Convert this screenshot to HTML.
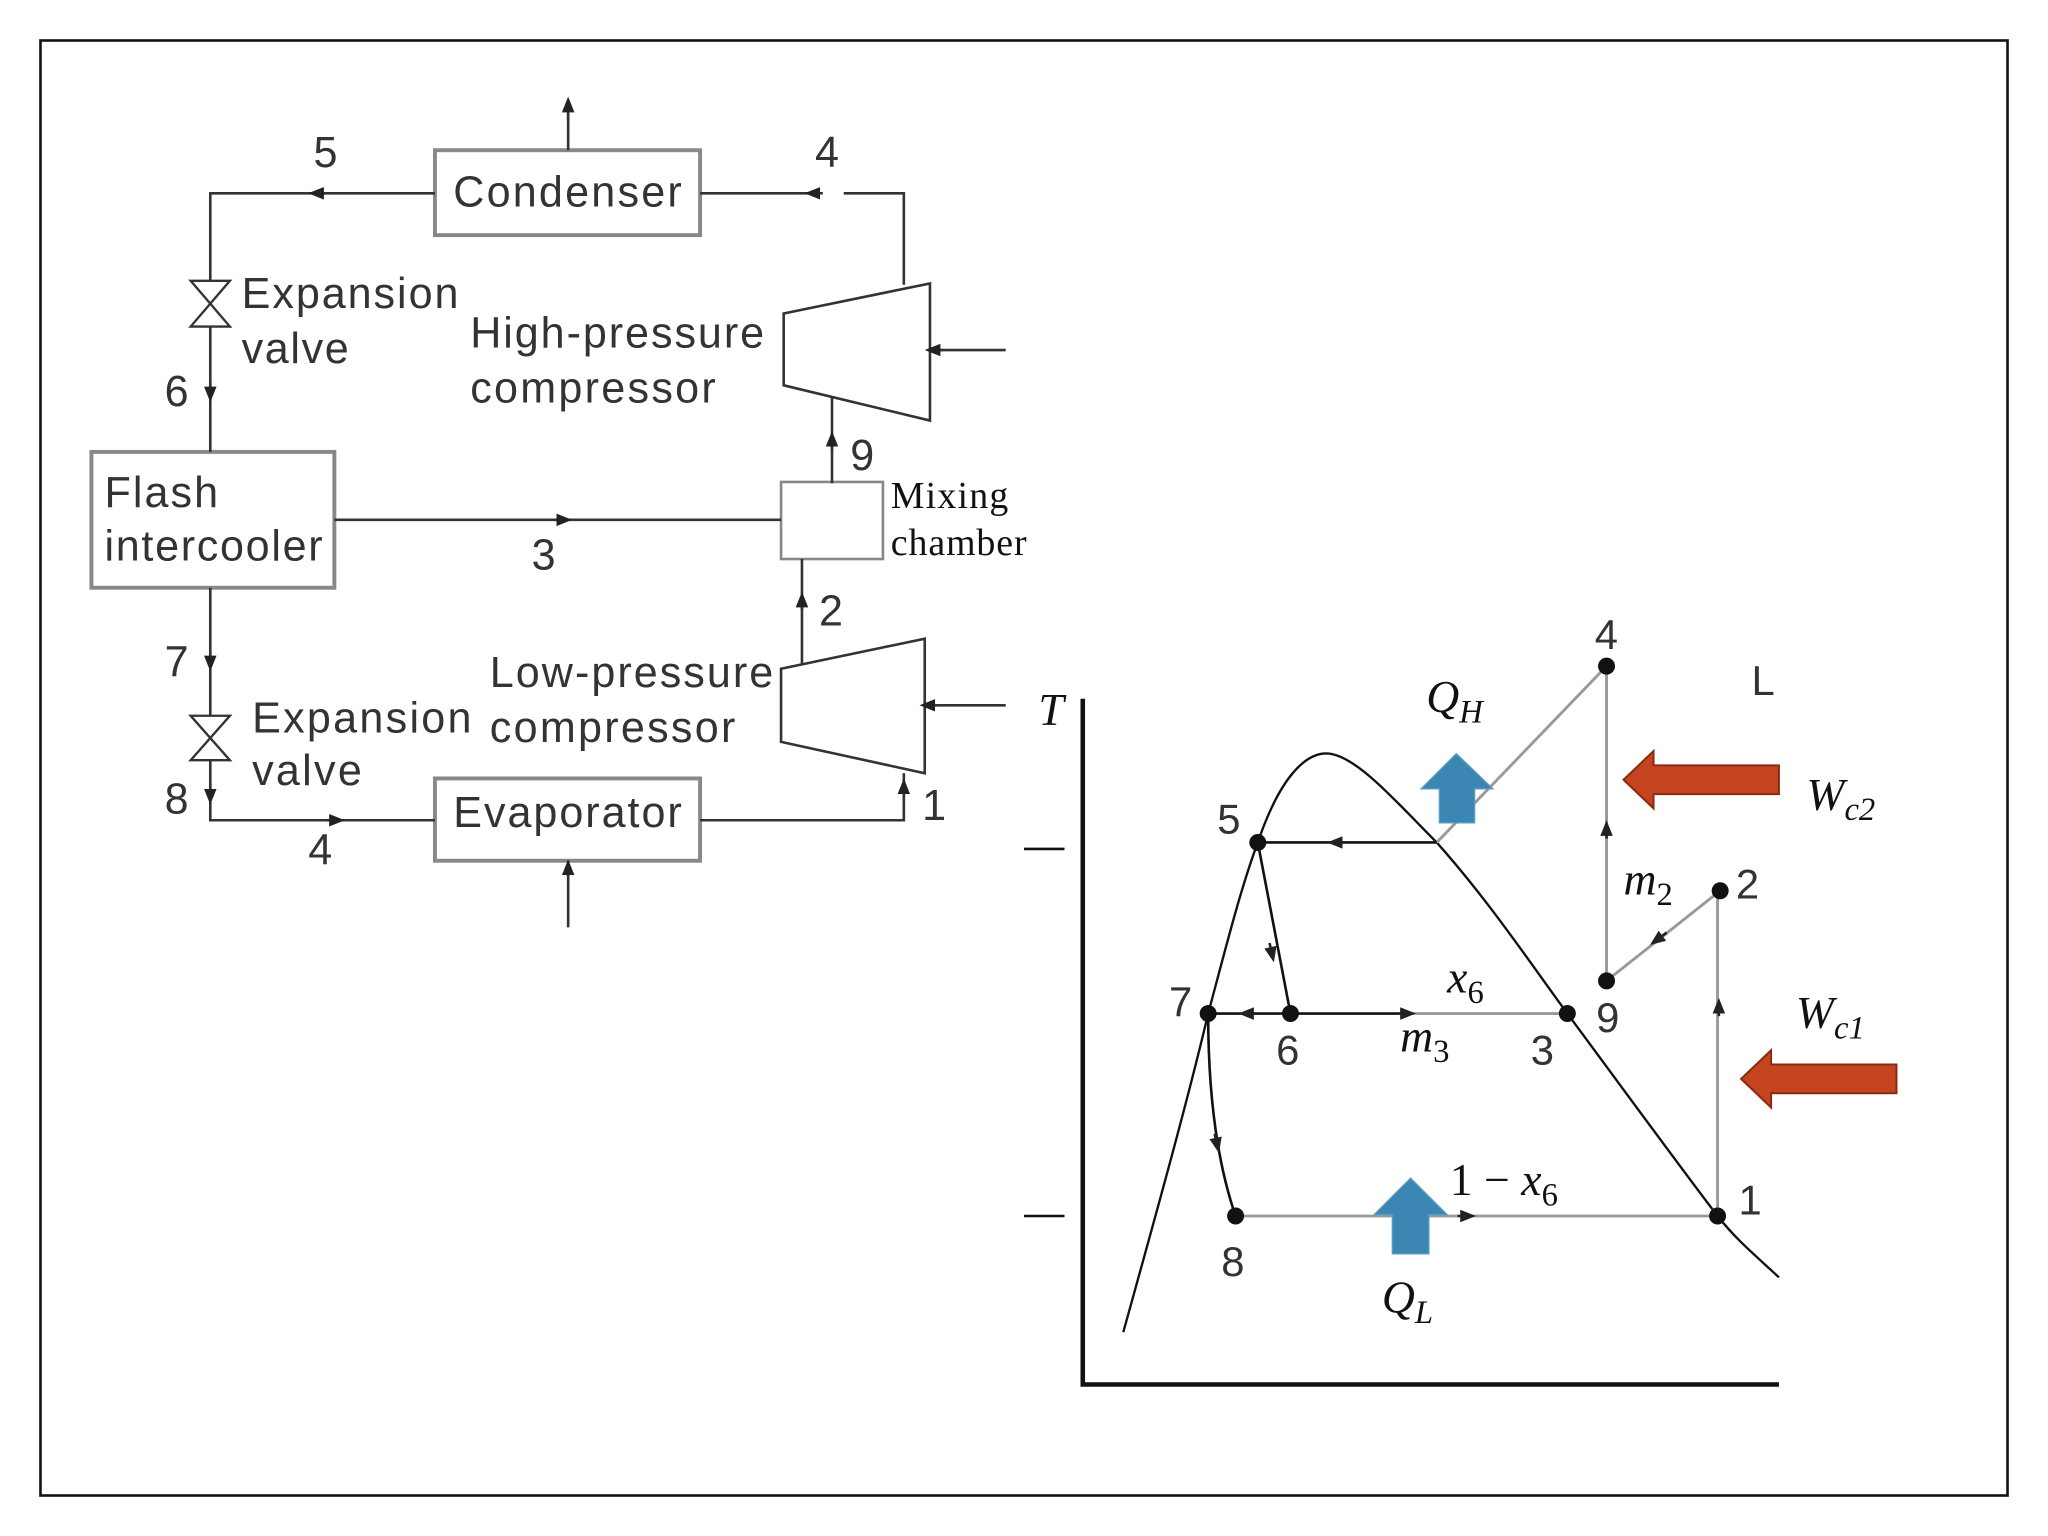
<!DOCTYPE html>
<html><head><meta charset="utf-8"><style>html,body{margin:0;padding:0;background:#fff}svg{display:block}</style></head>
<body>
<svg width="2048" height="1536" viewBox="0 0 1568 1176" xmlns="http://www.w3.org/2000/svg">
<defs>
<marker id="a" viewBox="0 0 10 10" refX="5" refY="5" markerWidth="12" markerHeight="12" markerUnits="userSpaceOnUse" orient="auto"><path d="M0,1 L10,5 L0,9 z" fill="#222"/></marker>
</defs>
<rect x="31" y="31" width="1506" height="1114" fill="none" stroke="#111" stroke-width="2"/>
<g stroke="#333" stroke-width="2" fill="none">
<rect x="333" y="115" width="203" height="65" stroke="#888" stroke-width="3"/>
<rect x="70" y="346" width="186" height="104" stroke="#888" stroke-width="3"/>
<rect x="333" y="596" width="203" height="63" stroke="#888" stroke-width="3"/>
<rect x="598" y="369" width="78" height="59" stroke="#888" stroke-width="2"/>
<polygon points="600,240 712,217 712,322 600,295"/>
<polygon points="598,512 708,489 708,592 598,568"/>
<path d="M435,115 V80"/><path d="M435,92 V80" marker-end="url(#a)"/>
<path d="M333,148 H161 V215 M161,250 V346"/>
<path d="M250,148 H242" marker-end="url(#a)"/>
<path d="M536,148 H628 M646,148 H692 V218"/>
<path d="M630,148 H622" marker-end="url(#a)"/>
<path d="M161,292 V302" marker-end="url(#a)"/>
<path d="M770,268 H712"/><path d="M722,268 H714" marker-end="url(#a)"/>
<path d="M637,370 V304"/><path d="M637,345 V336" marker-end="url(#a)"/>
<path d="M256,398 H598"/><path d="M424,398 H432" marker-end="url(#a)"/>
<path d="M614,428 V509"/><path d="M614,467 V459" marker-end="url(#a)"/>
<path d="M770,540 H708"/><path d="M718,540 H710" marker-end="url(#a)"/>
<path d="M161,450 V548 M161,582 V628 H333"/>
<path d="M161,498 V508" marker-end="url(#a)"/>
<path d="M161,600 V610" marker-end="url(#a)"/>
<path d="M250,628 H258" marker-end="url(#a)"/>
<path d="M536,628 H692 V592"/><path d="M692,610 V602" marker-end="url(#a)"/>
<path d="M435,710 V659"/><path d="M435,672 V664" marker-end="url(#a)"/>
<path d="M146,215 L176,215 L146,250 L176,250 Z" stroke-width="1.8"/>
<path d="M146,548 L176,548 L146,582 L176,582 Z" stroke-width="1.8"/>
</g>
<g font-family="Liberation Sans, sans-serif" font-size="33" fill="#333">
<text x="347" y="158" textLength="175">Condenser</text>
<text x="240" y="128">5</text><text x="624" y="128">4</text>
<text x="185" y="236" textLength="166">Expansion</text><text x="185" y="278" textLength="82">valve</text>
<text x="360" y="266" textLength="225">High-pressure</text><text x="360" y="308" textLength="188">compressor</text>
<text x="126" y="311">6</text>
<text x="80" y="388" textLength="87">Flash</text><text x="80" y="429" textLength="167">intercooler</text>
<text x="651" y="360">9</text><text x="407" y="436">3</text><text x="627" y="479">2</text>
<text x="375" y="526" textLength="217">Low-pressure</text><text x="375" y="568" textLength="188">compressor</text>
<text x="126" y="518">7</text><text x="193" y="561" textLength="168">Expansion</text><text x="193" y="601" textLength="84">valve</text>
<text x="126" y="623">8</text><text x="347" y="633" textLength="175">Evaporator</text>
<text x="236" y="662">4</text><text x="706" y="628">1</text>
</g>
<g font-family="Liberation Serif, serif" font-size="29" fill="#111">
<text x="682" y="389" textLength="90">Mixing</text><text x="682" y="425" textLength="104">chamber</text>
</g>
<!-- T-s -->
<g stroke="#111" fill="none">
<path d="M829,535 V1060 H1362" stroke-width="3.5"/>
<path d="M784,650 H815 M784,931 H815" stroke-width="2"/>
<path d="M860,1020 C885,930 910,840 925,776 C940,720 950,680 963,645 C980,595 1000,575 1018,577 C1040,580 1070,615 1100,645 C1140,690 1170,735 1200,776 C1240,830 1280,885 1315,931 C1330,950 1345,962 1362,978" stroke-width="1.8"/>
</g>
<g stroke="#999" stroke-width="2.2" fill="none">
<path d="M1100,645 L1230,510 V751 M1317,682 L1230,751 M1315,931 V682 M1080,776 H1200 M946,931 H1315"/>
</g>
<g stroke="#111" stroke-width="2" fill="none">
<path d="M963,645 H1100 M925,776 H1080 M963,645 L988,776 M925,776 Q925,870 946,931"/>
</g>
<g stroke="#222" stroke-width="2" fill="none">
<path d="M1030,645 H1022" marker-end="url(#a)"/>
<path d="M1230,642 V634" marker-end="url(#a)"/>
<path d="M1276,714 L1268,720" marker-end="url(#a)"/>
<path d="M1316,778 V770" marker-end="url(#a)"/>
<path d="M962,776 H954" marker-end="url(#a)"/>
<path d="M1070,776 H1078" marker-end="url(#a)"/>
<path d="M972,722 L974,731" marker-end="url(#a)"/>
<path d="M930,868 L932,877" marker-end="url(#a)"/>
<path d="M1116,931 H1124" marker-end="url(#a)"/>
</g>
<g fill="#111">
<circle cx="1230" cy="510" r="6.5"/><circle cx="963" cy="645" r="6.5"/><circle cx="1317" cy="682" r="6.5"/>
<circle cx="1230" cy="751" r="6.5"/><circle cx="925" cy="776" r="6.5"/><circle cx="988" cy="776" r="6.5"/>
<circle cx="1200" cy="776" r="6.5"/><circle cx="946" cy="931" r="6.5"/><circle cx="1315" cy="931" r="6.5"/>
</g>
<path d="M1102,630 V604 H1088 L1115,577 L1143,604 H1129 V630 Z" fill="#3c86b4" stroke="#5a9cc6"/>
<path d="M1066,960 V930 H1052 L1080,902 L1108,930 H1094 V960 Z" fill="#3c86b4" stroke="#5a9cc6"/>
<path d="M1362,586 H1266 V575 L1243,597 L1266,619 V608 H1362 Z" fill="#c3441e" stroke="#8a2a10" stroke-width="1.5"/>
<path d="M1452,815 H1356 V804 L1333,826 L1356,848 V837 H1452 Z" fill="#c3441e" stroke="#8a2a10" stroke-width="1.5"/>
<g font-family="Liberation Sans, sans-serif" font-size="32" fill="#333">
<text x="1221" y="497">4</text><text x="1341" y="532">L</text><text x="932" y="638">5</text>
<text x="1329" y="688">2</text><text x="895" y="778">7</text><text x="1222" y="790">9</text>
<text x="977" y="815">6</text><text x="1172" y="815">3</text><text x="1331" y="930">1</text>
<text x="935" y="977">8</text>
</g>
<g font-family="Liberation Serif, serif" font-style="italic" font-size="35" fill="#111">
<text x="795" y="555">T</text>
<text x="1092" y="545">Q<tspan font-size="25" dy="8">H</tspan></text>
<text x="1383" y="620">W<tspan font-size="25" dy="8">c2</tspan></text>
<text x="1243" y="685">m<tspan font-size="25" font-style="normal" dy="8">2</tspan></text>
<text x="1108" y="760">x<tspan font-size="25" font-style="normal" dy="8">6</tspan></text>
<text x="1375" y="787">W<tspan font-size="25" dy="8">c1</tspan></text>
<text x="1072" y="805">m<tspan font-size="25" font-style="normal" dy="8">3</tspan></text>
<text x="1110" y="915"><tspan font-style="normal">1 − </tspan>x<tspan font-size="25" font-style="normal" dy="8">6</tspan></text>
<text x="1058" y="1005">Q<tspan font-size="25" dy="8">L</tspan></text>
</g>
</svg>
</body></html>
